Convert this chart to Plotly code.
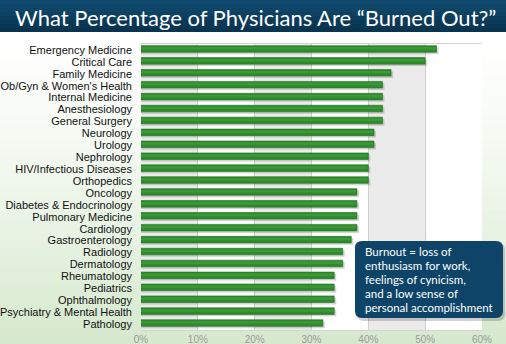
import plotly.graph_objects as go

# Burnout share by specialty (percent)
specialties = [
    "Emergency Medicine", "Critical Care", "Family Medicine",
    "Ob/Gyn & Women's Health", "Internal Medicine", "Anesthesiology",
    "General Surgery", "Neurology", "Urology", "Nephrology",
    "HIV/Infectious Diseases", "Orthopedics", "Oncology",
    "Diabetes & Endocrinology", "Pulmonary Medicine", "Cardiology",
    "Gastroenterology", "Radiology", "Dermatology", "Rheumatology",
    "Pediatrics", "Ophthalmology", "Psychiatry & Mental Health", "Pathology",
]
burnout_pct = [52, 50, 44, 42.5, 42.5, 42.5, 42.5, 41, 41, 40, 40, 40,
               38, 38, 38, 38, 37, 35.5, 35.5, 34, 34, 34, 34, 32]
tick_values = [0, 10, 20, 30, 40, 50, 60]
tick_labels = ["0%", "10%", "20%", "30%", "40%", "50%", "60%"]

title_text = "What Percentage of Physicians Are \u201cBurned Out?\u201d"
note_lines = [
    "Burnout = loss of",
    "enthusiasm for work,",
    "feelings of cynicism,",
    "and a low sense of",
    "personal accomplishment",
]

W, H = 506, 344
ML, MR, MT, MB = 141, 24, 44, 14
PW, PH = W - ML - MR, H - MT - MB


def px(x):
    return (x - ML) / PW


def py(y):
    return (H - MB - y) / PH


def mix(c1, c2, t):
    return "rgb(%d,%d,%d)" % tuple(round(a + (b - a) * t) for a, b in zip(c1, c2))


shapes = []

# page background: white fading into pale green toward the bottom
n = 40
top_c, bot_c = (255, 255, 255), (214, 233, 206)
for i in range(n):
    y0 = 30 + (H - 30) * i / n
    y1 = 30 + (H - 30) * (i + 1) / n + 1
    t = (i / (n - 1)) ** 1.3
    shapes.append(dict(type="rect", xref="paper", yref="paper",
                       x0=px(0), x1=px(W), y0=py(y1), y1=py(y0),
                       fillcolor=mix(top_c, bot_c, t), line_width=0, layer="below"))

# plot area face and alternating bands
shapes.append(dict(type="rect", xref="paper", yref="paper", x0=0, x1=1, y0=0, y1=1,
                   fillcolor="white", line_width=0, layer="below"))
for a in (0, 20, 40):
    shapes.append(dict(type="rect", xref="x", yref="paper", x0=a, x1=a + 10, y0=0, y1=1,
                       fillcolor="#ebebeb", line_width=0, layer="below"))

# title banner
m = 8
c_top, c_bot = (16, 74, 110), (9, 52, 80)
for i in range(m):
    y0 = 32 * i / m
    y1 = 32 * (i + 1) / m + 0.5
    shapes.append(dict(type="rect", xref="paper", yref="paper",
                       x0=px(0), x1=px(W), y0=py(min(y1, 32)), y1=py(y0),
                       fillcolor=mix(c_top, c_bot, i / (m - 1)), line_width=0, layer="above"))


def rounded_box(x0, y0, x1, y1, r):
    return ("M {a},{b} L {c},{b} Q {x1},{b} {x1},{d} L {x1},{e} Q {x1},{y1} {c},{y1} "
            "L {a},{y1} Q {x0},{y1} {x0},{e} L {x0},{d} Q {x0},{b} {a},{b} Z").format(
        a=px(x0 + r), b=py(y0), c=px(x1 - r), d=py(y0 + r), e=py(y1 - r),
        x0=px(x0), x1=px(x1), y1=py(y1))


# callout box with a soft shadow
shapes.append(dict(type="path", xref="paper", yref="paper",
                   path=rounded_box(357, 243, 505, 321, 7),
                   fillcolor="rgba(0,0,0,0.18)", line_width=0, layer="above"))
shapes.append(dict(type="path", xref="paper", yref="paper",
                   path=rounded_box(355, 241, 503, 318, 7),
                   fillcolor="#0d4468", line_width=0, layer="above"))

fig = go.Figure()

# drop shadow under each bar
fig.add_trace(go.Bar(
    y=specialties, x=[v + 0.35 for v in burnout_pct], orientation="h",
    marker=dict(color="rgba(60,60,60,0.22)", line_width=0),
    width=0.55, offset=-0.2, hoverinfo="skip", showlegend=False,
))
fig.add_trace(go.Bar(
    y=specialties, x=burnout_pct, orientation="h",
    marker=dict(color="#2f8a2c", line=dict(color="#247222", width=0.6)),
    width=0.55, offset=-0.36, showlegend=False,
))
# lighter core for a rounded look
fig.add_trace(go.Bar(
    y=specialties, x=[v - 0.15 for v in burnout_pct], orientation="h",
    marker=dict(color="#3a9a36", line_width=0),
    width=0.2, offset=-0.24, hoverinfo="skip", showlegend=False,
))

annotations = [dict(
    text=title_text, xref="paper", yref="paper", x=px(255), y=py(17),
    xanchor="center", yanchor="middle", showarrow=False,
    font=dict(family="Lato", size=22, color="white"),
)]
for i, line in enumerate(note_lines):
    annotations.append(dict(
        text=line, xref="paper", yref="paper", x=px(363), y=py(251 + 14 * i),
        xanchor="left", yanchor="middle", showarrow=False,
        font=dict(family="Lato", size=11.5, color="white"),
    ))

fig.update_layout(
    width=W, height=H,
    margin=dict(l=ML, r=MR, t=MT, b=MB, autoexpand=False),
    paper_bgcolor="white", plot_bgcolor="white",
    barmode="overlay", bargap=0.4,
    shapes=shapes, annotations=annotations,
    xaxis=dict(range=[0, 60], tickvals=tick_values, ticktext=tick_labels,
               showgrid=True, gridcolor="#cfcfcf", gridwidth=1, zeroline=False,
               showline=True, linecolor="#d4d4d4", mirror=True,
               tickfont=dict(family="Liberation Sans", size=10, color="#9a9a9a"),
               ticks="", fixedrange=True),
    yaxis=dict(range=[len(specialties) - 0.5, -0.5], type="category",
               tickmode="array", tickvals=specialties, ticktext=specialties,
               showgrid=False, zeroline=False, showline=False, ticks="",
               ticklabelstandoff=8,
               tickfont=dict(family="Liberation Sans", size=11, color="#111111"),
               fixedrange=True),
)

fig.write_html("out.html")
